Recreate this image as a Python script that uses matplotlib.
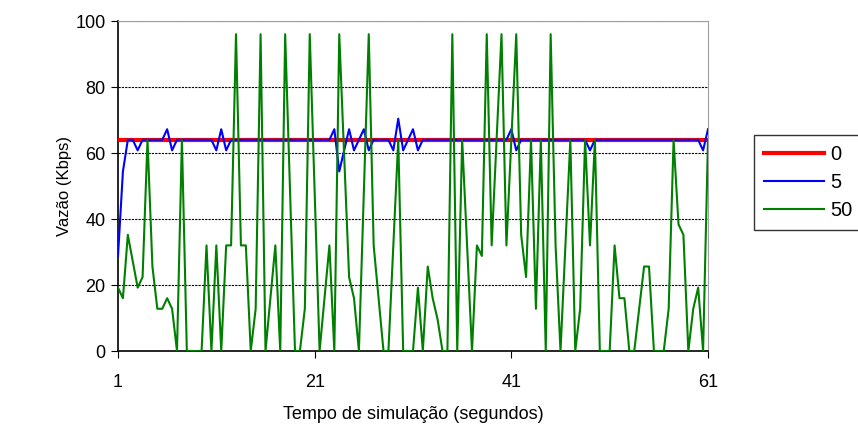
import numpy as np
import matplotlib
matplotlib.use("Agg")
import matplotlib.pyplot as plt

# --------------------------
# Dados (amostras a cada 0,5 s)
# --------------------------
tempo = np.arange(1, 61.01, 0.5)

vazao_0 = [64.0] * 121

vazao_5 = [28.8, 54.4, 64, 64, 60.8, 64, 64, 64, 64, 64,
           67.2, 60.8, 64, 64, 64, 64, 64, 64, 64, 64,
           60.8, 67.2, 60.8, 64, 64, 64, 64, 64, 64, 64,
           64, 64, 64, 64, 64, 64, 64, 64, 64, 64,
           64, 64, 64, 64, 67.2, 54.4, 60.8, 67.2, 60.8, 64,
           67.2, 60.8, 64, 64, 64, 64, 60.8, 70.4, 60.8, 64,
           67.2, 60.8, 64, 64, 64, 64, 64, 64, 64, 64,
           64, 64, 64, 64, 64, 64, 64, 64, 64, 64,
           67.2, 60.8, 64, 64, 64, 64, 64, 64, 64, 64,
           64, 64, 64, 64, 64, 64, 60.8, 64, 64, 64,
           64, 64, 64, 64, 64, 64, 64, 64, 64, 64,
           64, 64, 64, 64, 64, 64, 64, 64, 64, 60.8,
           67.2]

vazao_50 = [19.2, 16, 35.2, 27.2, 19.2, 22.4, 64, 25.6, 12.8, 12.8,
            16, 12.8, 0, 64, 0, 0, 0, 0, 32, 0,
            32, 0, 32, 32, 96, 32, 32, 0, 12.8, 96,
            0, 16, 32, 0, 96, 48, 0, 0, 12.8, 96,
            48, 0, 16, 32, 0, 96, 59.2, 22.4, 16, 0,
            48, 96, 32, 16, 0, 0, 32, 64, 0, 0,
            0, 19.2, 0, 25.6, 16, 9.6, 0, 0, 96, 0,
            64, 32, 0, 32, 28.8, 96, 32, 64, 96, 32,
            64, 96, 35.2, 22.4, 64, 12.8, 64, 0, 96, 32,
            0, 32, 64, 0, 12.8, 64, 32, 64, 0, 0,
            0, 32, 16, 16, 0, 0, 12.8, 25.6, 25.6, 0,
            0, 0, 12.8, 64, 38.4, 35.2, 0, 12.8, 19.2, 0,
            64]

rotulos_x = [1, 21, 41, 61]

# --------------------------
# Figura
# --------------------------
plt.rcParams["font.family"] = ["Liberation Sans", "DejaVu Sans"]
fig = plt.figure(figsize=(8.58, 4.30), dpi=100)
ax = fig.add_axes([118/858, 1 - 351/430, 590/858, 330/430])

ax.plot(tempo, vazao_0, color="#FF0000", lw=3.0, label="0", zorder=3)
ax.plot(tempo, vazao_5, color="#0000FF", lw=1.5, label="5", zorder=4)
ax.plot(tempo, vazao_50, color="#008000", lw=1.5, label="50", zorder=5)

ax.set_xlim(1, 61)
ax.set_ylim(0, 100)
ax.set_xticks(rotulos_x)
ax.set_yticks(range(0, 101, 20))
ax.tick_params(axis="both", labelsize=13, direction="out", length=5, color="black")
ax.tick_params(axis="x", pad=11.5)
ax.tick_params(axis="y", pad=4)

for y in range(20, 101, 20):
    ax.axhline(y, color="black", lw=0.8, ls=(0, (2, 1)), zorder=1)

for lado in ["top", "right"]:
    ax.spines[lado].set_color("#A0A0A0")
for lado in ["left", "bottom"]:
    ax.spines[lado].set_color("black")
    ax.spines[lado].set_linewidth(1.2)

ax.set_xlabel("Tempo de simulação (segundos)", fontsize=13, labelpad=11)
ax.set_ylabel("Vazão (Kbps)", fontsize=12, labelpad=2.5)

leg = ax.legend(loc="upper left", bbox_to_anchor=(754/858, 1 - 135/430),
                bbox_transform=fig.transFigure, fontsize=14.5, frameon=True,
                fancybox=False, edgecolor="black", handlelength=3.0,
                handletextpad=0.3, borderpad=0.5, labelspacing=0.45,
                borderaxespad=0)
leg.get_frame().set_linewidth(1.0)

fig.savefig("out.png", dpi=100)
